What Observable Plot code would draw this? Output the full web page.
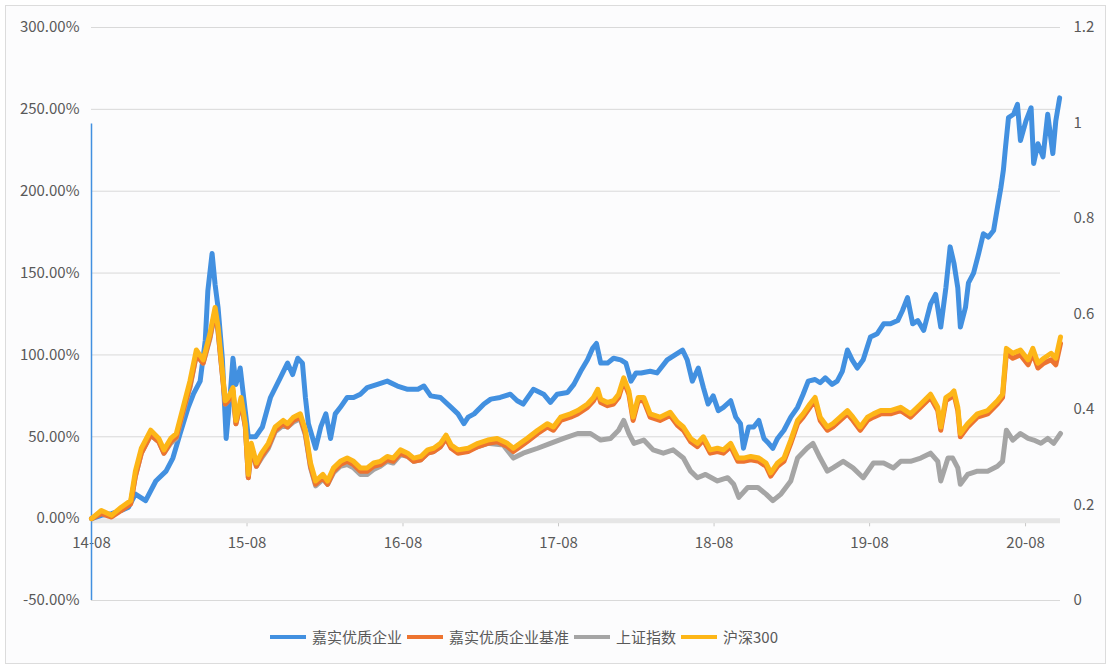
<!DOCTYPE html>
<html>
<head>
<meta charset="utf-8">
<script src="https://cdn.jsdelivr.net/npm/d3@7"></script>
<script src="https://cdn.jsdelivr.net/npm/@observablehq/plot@0.6"></script>
<style>
  html, body { margin: 0; padding: 0; background: #ffffff; }
  body { width: 1116px; height: 670px; position: relative; overflow: hidden; font-family: "Noto Sans CJK SC", "Noto Sans", sans-serif; }
  #frame { position: absolute; left: 5px; top: 5px; width: 1101px; height: 659px; border: 1px solid #dcdcdc; background: #fcfcfd; box-sizing: border-box; }
  #chart { position: absolute; left: 0; top: 0; }
  #legend { position: absolute; left: 270px; top: 626px; display: flex; align-items: center; font-size: 15px; color: #595959; white-space: nowrap; }
  #legend .sw { width: 36px; height: 4px; margin-right: 6px; }
  #legend .lb { margin-right: 5px; }
</style>
</head>
<body>
<div id="frame"></div>
<div id="chart"></div>
<div id="legend"></div>
<script>
// ---- series names & colours ----
const seriesNames = ["嘉实优质企业", "嘉实优质企业基准", "上证指数", "沪深300"];
const seriesColors = ["#4290e0", "#ed7430", "#a5a5a5", "#fdb617"];

// ---- 嘉实优质企业 (cumulative return, %) ----
const fundDates = [
  "2014-08-01","2014-08-24","2014-09-17","2014-10-10","2014-10-27","2014-11-12","2014-12-06","2014-12-30",
  "2015-01-23","2015-02-08","2015-02-25","2015-03-16","2015-03-28","2015-04-13","2015-04-25","2015-05-01","2015-05-11","2015-05-18","2015-05-25","2015-06-04","2015-06-13","2015-06-22","2015-06-29","2015-07-06","2015-07-16","2015-07-25","2015-08-04","2015-08-21","2015-09-06","2015-09-25","2015-10-18","2015-11-04","2015-11-16","2015-11-28","2015-12-09","2015-12-16","2015-12-23",
  "2016-01-09","2016-01-21","2016-02-02","2016-02-13","2016-02-24","2016-03-07","2016-03-23","2016-04-07","2016-04-23","2016-05-09","2016-06-02","2016-06-25","2016-07-19","2016-08-12","2016-09-05","2016-09-19","2016-10-05","2016-10-28","2016-11-22","2016-12-08","2016-12-22",
  "2017-01-01","2017-01-15","2017-02-07","2017-02-23","2017-03-17","2017-04-10","2017-04-26","2017-05-10","2017-06-03","2017-06-27","2017-07-13","2017-07-29","2017-08-22","2017-09-06","2017-09-22","2017-10-08","2017-10-20","2017-10-29","2017-11-08","2017-11-24","2017-12-08","2017-12-25",
  "2018-01-06","2018-01-18","2018-01-30","2018-02-11","2018-03-04","2018-03-20","2018-04-13","2018-05-07","2018-05-19","2018-05-30","2018-06-11","2018-06-25","2018-07-07","2018-07-18","2018-07-30","2018-08-11","2018-08-23","2018-09-09","2018-09-21","2018-10-02","2018-10-09","2018-10-21","2018-11-02","2018-11-14","2018-11-26","2018-12-07","2018-12-17","2018-12-28",
  "2019-01-12","2019-01-28","2019-02-13","2019-02-26","2019-03-10","2019-03-26","2019-04-07","2019-04-19","2019-05-05","2019-05-17","2019-05-29","2019-06-10","2019-06-21","2019-07-03","2019-07-17","2019-08-03","2019-08-19","2019-09-03","2019-09-19","2019-10-06","2019-10-17","2019-10-29","2019-11-10","2019-11-22","2019-12-06","2019-12-22",
  "2020-01-03","2020-01-15","2020-01-27","2020-02-06","2020-02-15","2020-02-24","2020-03-01","2020-03-13","2020-03-20","2020-04-01","2020-04-13","2020-04-24","2020-05-06","2020-05-18","2020-05-27","2020-06-04","2020-06-10","2020-06-15","2020-06-22","2020-07-04","2020-07-13","2020-07-20","2020-08-02","2020-08-14","2020-08-20","2020-08-30","2020-09-11","2020-09-22","2020-10-04","2020-10-11","2020-10-20"
];
const fundValues = [
  0,2,3,5,7,15,11,23,
  29,37,52,68,76,84,109,139,162,143,129,98,49,74,98,82,92,72,50,50,56,74,86,95,88,98,95,74,58,
  43,56,64,49,64,68,74,74,76,80,82,84,81,79,79,81,75,74,68,64,58,
  62,64,70,73,74,76,72,70,79,76,71,76,77,82,90,97,104,107,95,95,98,97,
  95,84,89,89,90,89,97,101,103,97,84,92,80,70,75,66,68,72,62,58,43,56,56,60,49,46,43,49,
  54,62,68,76,84,85,83,86,82,84,90,103,97,92,97,111,113,119,119,121,127,135,119,121,115,131,
  137,117,141,166,156,141,117,129,144,150,162,174,172,176,190,202,213,227,245,247,253,231,243,251,217,229,221,247,223,243,257
];

// ---- 沪深300 and 嘉实优质企业基准 (same dates) ----
const indexDates = [
  "2014-08-01","2014-08-24","2014-09-17","2014-10-10","2014-11-01","2014-11-12","2014-11-26","2014-12-18",
  "2015-01-06","2015-01-18","2015-02-03","2015-02-16","2015-03-04","2015-03-20","2015-04-04","2015-04-20","2015-05-06","2015-05-18","2015-05-25","2015-06-01","2015-06-11","2015-06-18","2015-06-29","2015-07-06","2015-07-18","2015-07-28","2015-08-04","2015-08-11","2015-08-23","2015-09-04","2015-09-20","2015-10-06","2015-10-25","2015-11-04","2015-11-18","2015-12-04","2015-12-16","2015-12-28",
  "2016-01-09","2016-01-26","2016-02-06","2016-02-20","2016-03-07","2016-03-23","2016-04-07","2016-04-23","2016-05-09","2016-05-24","2016-06-09","2016-06-25","2016-07-09","2016-07-26","2016-08-12","2016-08-26","2016-09-12","2016-09-28","2016-10-12","2016-10-28","2016-11-10","2016-11-22","2016-12-08",
  "2017-01-01","2017-01-24","2017-02-16","2017-03-10","2017-04-03","2017-04-17","2017-05-03","2017-05-19","2017-06-13","2017-07-06","2017-07-20","2017-08-06","2017-08-29","2017-09-15","2017-10-08","2017-10-22","2017-11-01","2017-11-08","2017-11-24","2017-12-08","2017-12-20",
  "2018-01-01","2018-01-13","2018-01-23","2018-02-04","2018-02-17","2018-03-04","2018-03-27","2018-04-20","2018-05-07","2018-05-21","2018-06-07","2018-06-23","2018-07-07","2018-07-23","2018-08-09","2018-08-23","2018-09-09","2018-09-26","2018-10-09","2018-10-26","2018-11-14","2018-12-01","2018-12-12","2018-12-28",
  "2019-01-12","2019-01-28","2019-02-13","2019-02-26","2019-03-14","2019-03-26","2019-04-07","2019-04-24","2019-05-07","2019-05-24","2019-06-10","2019-06-23","2019-07-10","2019-07-27","2019-08-10","2019-08-27","2019-09-19","2019-10-13","2019-11-05","2019-11-29","2019-12-22",
  "2020-01-08","2020-01-15","2020-01-27","2020-02-08","2020-02-15","2020-02-24","2020-03-01","2020-03-18","2020-04-10","2020-05-04","2020-05-27","2020-06-08","2020-06-17","2020-07-02","2020-07-20","2020-08-07","2020-08-18","2020-08-30","2020-09-13","2020-09-30","2020-10-11","2020-10-22"
];
const hs300Values = [
  0,5,2,7,11,29,43,54,
  49,42,49,52,68,84,103,97,113,129,117,98,72,74,80,60,74,58,27,46,34,40,46,56,60,58,62,64,54,34,
  23,27,23,31,35,37,35,31,31,34,35,38,37,42,40,37,38,42,43,46,51,45,42,
  43,46,48,49,46,43,46,49,54,58,56,62,64,66,70,74,79,73,71,72,76,
  86,78,62,74,74,64,62,65,59,56,49,46,50,42,43,42,46,37,37,38,37,34,28,34,
  37,48,60,64,70,74,62,56,58,62,66,62,56,62,64,66,66,68,64,70,76,
  68,56,74,76,78,68,52,58,64,66,72,76,104,101,103,97,104,95,98,101,98,111
];
const benchValues = [
  0,3,1,5,9,26,40,51,
  47,40,47,50,66,81,100,95,111,127,115,96,70,72,78,58,72,56,25,44,32,38,44,54,58,56,60,62,52,32,
  21,25,21,29,33,35,33,29,29,32,33,36,35,40,38,35,36,40,41,44,49,43,40,
  41,44,46,47,44,41,44,47,52,56,54,60,62,64,68,72,77,71,69,70,74,
  84,76,60,72,72,62,60,63,57,54,47,44,48,40,41,40,44,35,35,36,35,32,26,32,
  35,46,58,62,68,72,60,54,56,60,64,60,54,60,62,64,64,66,62,68,74,
  66,54,72,74,76,66,50,56,62,64,70,74,101,98,100,94,101,92,95,97,94,107
];

// ---- 上证指数 ----
const szDates = [
  "2014-08-01","2014-08-24","2014-09-17","2014-10-10","2014-11-01","2014-11-12","2014-11-26","2014-12-18",
  "2015-01-06","2015-01-18","2015-02-03","2015-02-16","2015-03-04","2015-03-20","2015-04-04","2015-04-20","2015-05-06","2015-05-18","2015-05-25","2015-06-01","2015-06-11","2015-06-18","2015-06-29","2015-07-06","2015-07-18","2015-07-28","2015-08-04","2015-08-11","2015-08-23","2015-09-04","2015-09-20","2015-10-06","2015-10-25","2015-11-04","2015-11-18","2015-12-04","2015-12-16","2015-12-28",
  "2016-01-09","2016-01-26","2016-02-06","2016-02-20","2016-03-07","2016-03-23","2016-04-07","2016-04-23","2016-05-09","2016-05-24","2016-06-09","2016-06-25","2016-07-09","2016-07-26","2016-08-12","2016-08-26","2016-09-12","2016-09-28","2016-10-12","2016-10-28","2016-11-10","2016-11-22","2016-12-08",
  "2017-01-01","2017-01-24","2017-02-16","2017-03-24","2017-04-17","2017-05-10","2017-06-13","2017-07-13","2017-08-13","2017-09-15","2017-10-15","2017-11-08","2017-12-01","2017-12-20",
  "2018-01-01","2018-01-13","2018-01-25","2018-02-17","2018-03-11","2018-04-04","2018-04-27","2018-05-21","2018-06-07","2018-06-23","2018-07-12","2018-08-09","2018-09-02","2018-09-16","2018-09-28","2018-10-19","2018-11-12","2018-12-01","2018-12-17",
  "2019-01-05","2019-01-28","2019-02-13","2019-03-07","2019-03-21","2019-04-07","2019-04-24","2019-05-07","2019-05-31","2019-06-23","2019-07-17","2019-08-10","2019-09-03","2019-09-26","2019-10-13","2019-11-05","2019-11-29","2019-12-22",
  "2020-01-08","2020-01-15","2020-02-01","2020-02-12","2020-02-24","2020-03-01","2020-03-18","2020-04-10","2020-05-04","2020-05-27","2020-06-08","2020-06-17","2020-07-02","2020-07-20","2020-08-07","2020-08-20","2020-09-06","2020-09-22","2020-10-06","2020-10-22"
];
const szValues = [
  0,4,2,6,10,26,40,51,
  47,40,46,49,65,80,100,95,110,126,114,96,70,72,77,58,71,56,25,43,32,37,43,53,57,56,59,61,51,31,
  20,24,21,28,32,33,31,27,27,30,32,35,34,39,38,35,36,40,41,44,49,44,41,
  42,44,46,45,37,40,43,46,49,52,52,48,49,54,
  60,52,46,48,42,40,42,37,29,25,27,23,25,21,13,19,19,15,11,
  15,23,37,43,46,37,29,31,35,31,25,34,34,31,35,35,37,40,
  35,23,37,37,31,21,27,29,29,32,35,54,48,52,49,48,46,49,46,52
];

// ---- axes ----
const xDomain = ["2014-08-01", "2020-10-22"];
const xTickDates = ["2014-08-01","2015-08-01","2016-08-01","2017-08-01","2018-08-01","2019-08-01","2020-08-01"];
const xTickLabels = ["14-08","15-08","16-08","17-08","18-08","19-08","20-08"];
const leftTicks = [-50, 0, 50, 100, 150, 200, 250, 300];
const rightTicks = [0, 0.2, 0.4, 0.6, 0.8, 1, 1.2];
const rightTickLabels = ["0", "0.2", "0.4", "0.6", "0.8", "1", "1.2"];
const guideTop = 241; // top of the blue vertical guide at the start date

// ---- build tables ----
const parse = s => new Date(s + "T00:00:00Z");
function table(dates, values, name) {
  if (dates.length !== values.length) console.warn("length mismatch", name, dates.length, values.length);
  return d3.zip(dates, values).map(([d, v]) => ({date: parse(d), value: v, series: name}));
}
const fund = table(fundDates, fundValues, seriesNames[0]);
const bench = table(indexDates, benchValues, seriesNames[1]);
const sz = table(szDates, szValues, seriesNames[2]);
const hs300 = table(indexDates, hs300Values, seriesNames[3]);

const yMin = leftTicks[0], yMax = leftTicks[leftTicks.length - 1];
const rightToLeft = v => yMin + (v - rightTicks[0]) / (rightTicks[rightTicks.length - 1] - rightTicks[0]) * (yMax - yMin);

const txt = "#595959";
const font = '"Noto Sans CJK SC", "Noto Sans", sans-serif';
const lw = 5;

const chart = Plot.plot({
  width: 1116,
  height: 615,
  marginLeft: 91,
  marginRight: 56,
  marginTop: 27,
  marginBottom: 15,
  style: {background: "transparent", fontFamily: font, overflow: "visible"},
  x: {type: "utc", domain: xDomain.map(parse), axis: null},
  y: {domain: [yMin, yMax], axis: null},
  marks: [
    Plot.ruleY(leftTicks.filter(d => d !== 0), {stroke: "#d9d9d9", strokeWidth: 1}),
    Plot.ruleY([0], {stroke: "#e6e6e6", strokeWidth: 5, dy: 2}),
    Plot.ruleX(xTickDates.map(parse), {y1: -3, y2: -5, stroke: "#c8c8c8", strokeWidth: 1}),
    Plot.text(leftTicks, {y: d => d, frameAnchor: "left", dx: -12, textAnchor: "end",
      text: d => d.toFixed(2) + "%", fill: txt, fontSize: 15}),
    Plot.text(rightTicks, {y: d => rightToLeft(d), frameAnchor: "right", dx: 13, textAnchor: "start",
      text: (d, i) => rightTickLabels[i], fill: txt, fontSize: 15}),
    Plot.text(xTickDates, {x: d => parse(d), y: 0, dy: 25, text: (d, i) => xTickLabels[i],
      fill: txt, fontSize: 15}),
    Plot.ruleX([parse(fundDates[0])], {y1: yMin, y2: guideTop, stroke: seriesColors[0], strokeWidth: 1.5}),
    Plot.line(fund, {x: "date", y: "value", stroke: seriesColors[0], strokeWidth: lw}),
    Plot.line(sz, {x: "date", y: "value", stroke: seriesColors[2], strokeWidth: lw}),
    Plot.line(bench, {x: "date", y: "value", stroke: seriesColors[1], strokeWidth: lw}),
    Plot.line(hs300, {x: "date", y: "value", stroke: seriesColors[3], strokeWidth: lw})
  ]
});
document.getElementById("chart").appendChild(chart);

// ---- legend ----
const legend = document.getElementById("legend");
seriesNames.forEach((name, i) => {
  const sw = document.createElement("span");
  sw.className = "sw";
  sw.style.background = seriesColors[i];
  const lb = document.createElement("span");
  lb.className = "lb";
  lb.textContent = name;
  legend.appendChild(sw);
  legend.appendChild(lb);
});
</script>
</body>
</html>
